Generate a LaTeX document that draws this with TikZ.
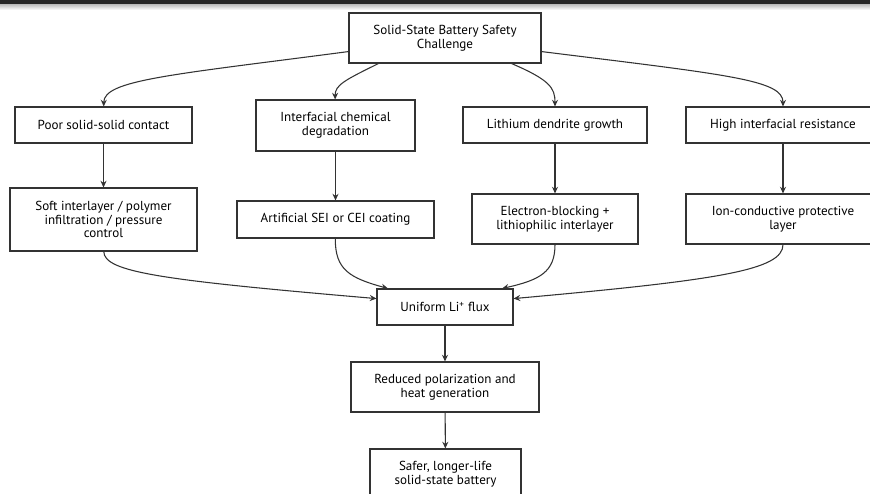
\documentclass[tikz,border=0pt]{standalone}
\usepackage{fontspec}
\setmainfont{PT Sans}
\usetikzlibrary{arrows.meta}
\definecolor{linegray}{HTML}{333333}
\tikzset{
    >={Stealth[length=5pt,width=4.5pt]},
    flowchart/.style={
        x=0.75pt, y=-0.75pt,
        box/.append style={draw=linegray,line width=0.8pt,fill=white,rectangle,align=center,inner sep=0pt,font=\fontsize{9.8}{10.3}\selectfont},
        flow/.append style={draw=linegray,line width=0.8pt,->},
        every edge/.append style={draw=linegray,line width=0.8pt,->}
    },
    wh/.style 2 args={minimum width=#1*0.75pt,minimum height=#2*0.75pt}
}

\begin{document}
\begin{tikzpicture}[flowchart]
    \useasboundingbox (0,0) rectangle (870,493);
    \clip (0,0) rectangle (870,493);
    % window edge at the top
    \shade[top color=gray!55, bottom color=white] (0,4) rectangle (870,10);
    \fill[black!85] (0,0) rectangle (870,4);

    \node[box,wh={192}{50}] (top) at (445,38) {Solid-State Battery Safety\\Challenge};

    % problems
    \node[box,wh={177}{36}] (poor) at (103.5,125) {Poor solid-solid contact};
    \node[box,wh={159}{51}] (inter) at (335.5,125.5) {Interfacial chemical\\degradation};
    \node[box,wh={184}{36}] (lith) at (555,125) {Lithium dendrite growth};
    \node[box,wh={194}{36}] (high) at (783,125) {High interfacial resistance};

    % remedies
    \node[box,wh={187}{63}] (soft) at (103.5,219.5) {Soft interlayer / polymer\\infiltration / pressure\\control};
    \node[box,wh={197}{37}] (art) at (335.5,219.5) {Artificial SEI or CEI coating};
    \node[box,wh={166}{50}] (elec) at (555,219) {Electron-blocking +\\lithiophilic interlayer};
    \node[box,wh={194}{50}] (ion) at (783,219) {Ion-conductive protective\\layer};

    % outcome chain
    \node[box,wh={136}{36}] (uni) at (445,307) {Uniform Li\textsuperscript{+} flux};
    \node[box,wh={188}{50}] (red) at (445,387) {Reduced polarization and\\heat generation};
    \node[box,wh={151}{50}] (safe) at (445.5,474) {Safer, longer-life\\solid-state battery};

    \draw[flow] (top.188) .. controls (170,75) and (104,80) .. (poor);
    \draw[flow] (top.201) .. controls (345,80) and (335,85) .. (inter);
    \draw[flow] (top.339) .. controls (550,80) and (555,88) .. (lith);
    \draw[flow] (top.352) .. controls (730,75) and (783,80) .. (high);

    \path (poor) edge (soft)
          (inter) edge (art)
          (lith) edge (elec)
          (high) edge (ion);

    \draw[flow] (soft) .. controls (104,272) and (160,280) .. (uni.173);
    \draw[flow] (art) .. controls (335,270) and (350,278) .. (uni.162);
    \draw[flow] (elec) .. controls (555,272) and (540,280) .. (uni.18);
    \draw[flow] (ion) .. controls (783,270) and (720,280) .. (uni.7);

    \path (uni) edge (red)
          (red) edge (safe);
\end{tikzpicture}
\end{document}
